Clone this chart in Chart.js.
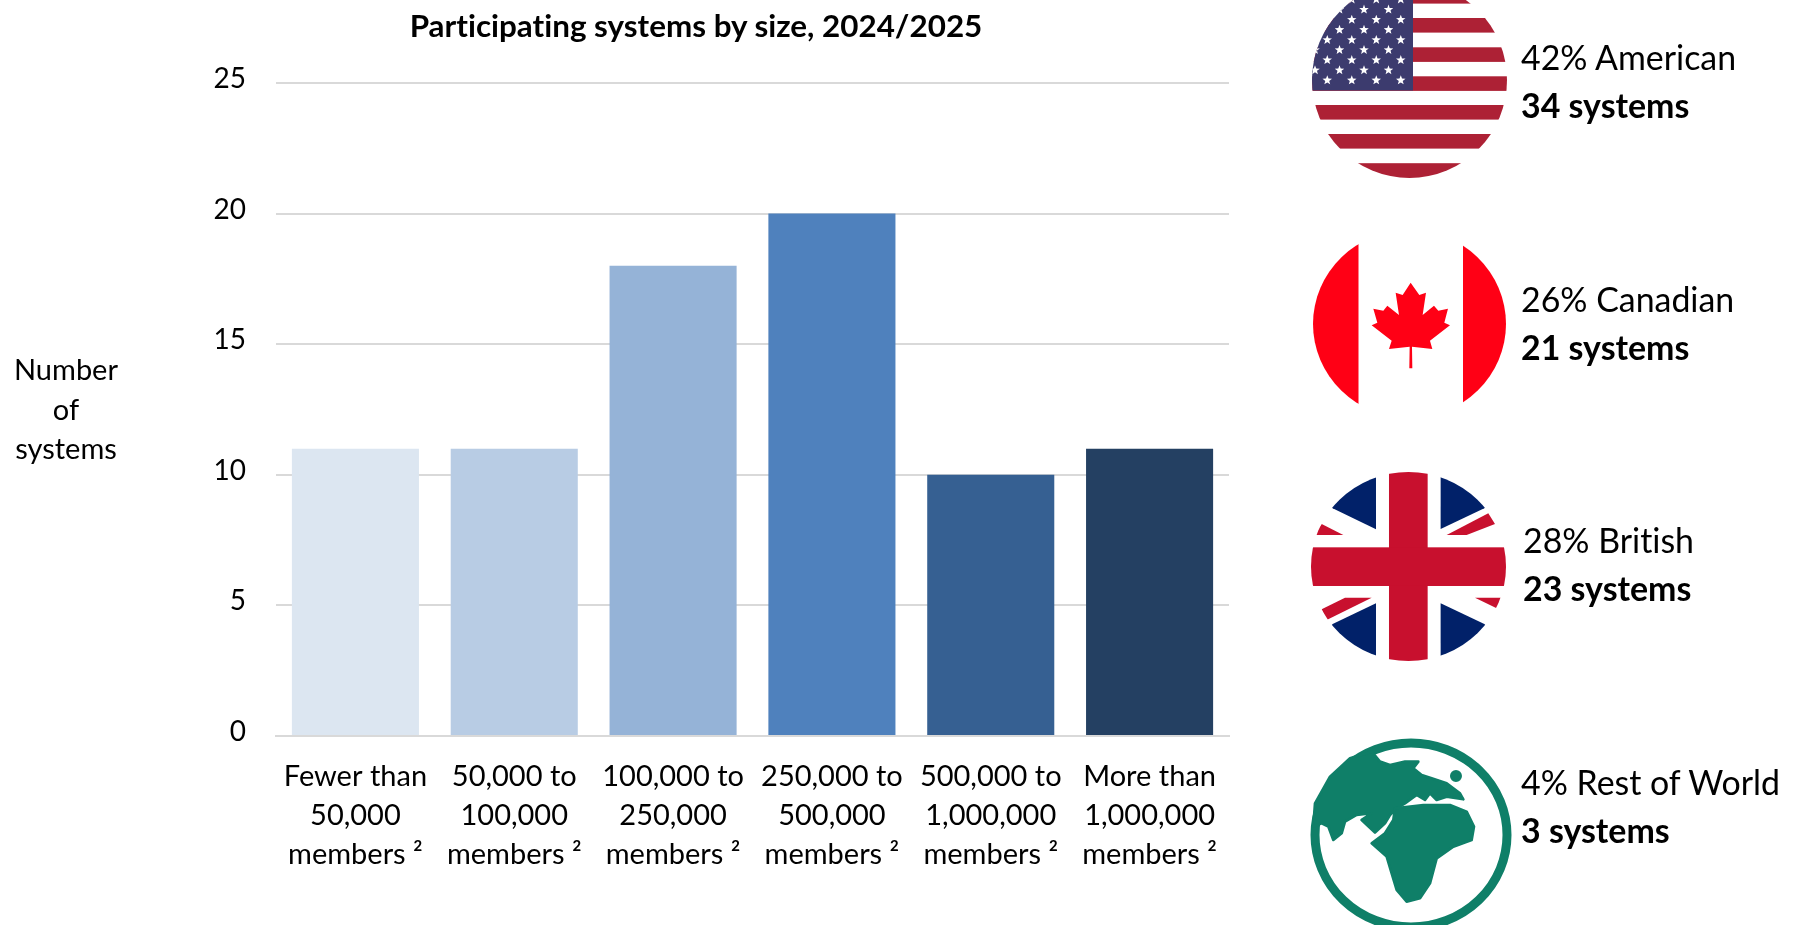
<!DOCTYPE html>
<html>
<head>
<meta charset="utf-8">
<title>Participating systems by size</title>
<script src="https://cdn.jsdelivr.net/npm/chart.js@4"></script>
<style>
  html, body { margin: 0; padding: 0; background: #fff; overflow: hidden; }
  #page { position: relative; width: 1796px; height: 925px; font-family: Lato, sans-serif; color: #000; font-variant-ligatures: none; }
  #page canvas { position: absolute; left: 0; top: 0; }
  #flags { position: absolute; left: 0; top: 0; }
  .chart-title { position: absolute; left: 296px; width: 800px; top: 7px; text-align: center; font-size: 31.4px; line-height: 36px; font-weight: 700; }
  .axis-title { position: absolute; left: 6px; width: 120px; text-align: center; font-size: 29px; line-height: 39.5px; top: 349px; }
  .origin { position: absolute; font-size: 33.9px; line-height: 48px; white-space: nowrap; }
  .origin b { display: block; font-weight: 700; }
</style>
</head>
<body>
<div id="page">
  <canvas id="sizeChart" width="1796" height="925"></canvas>
  <div class="chart-title" id="chart-title"></div>
  <div class="axis-title" id="axis-title"></div>

  <svg id="flags" width="1796" height="925" viewBox="0 0 1796 925">
    <defs>
      <clipPath id="us-clip"><ellipse cx="1409.5" cy="80" rx="97.5" ry="98"/></clipPath>
      <clipPath id="uk-clip"><ellipse cx="1408.5" cy="566.5" rx="97.5" ry="94.5"/></clipPath>
      <clipPath id="ca-clip"><ellipse cx="1409.5" cy="324" rx="96.5" ry="94"/></clipPath>
      <clipPath id="page-clip"><rect width="1796" height="925"/></clipPath>
    </defs>

    <!-- stars and stripes, stars get added by script -->
    <g clip-path="url(#us-clip)" id="us-flag">
      <rect x="1300" y="-20" width="220" height="200" fill="#fff"/>
      <g fill="#ad2135">
        <rect x="1300" y="-11" width="220" height="14.6"/>
        <rect x="1300" y="18" width="220" height="14.6"/>
        <rect x="1300" y="47.3" width="220" height="14.6"/>
        <rect x="1300" y="76.3" width="220" height="14.6"/>
        <rect x="1300" y="105" width="220" height="14.6"/>
        <rect x="1300" y="134" width="220" height="14.6"/>
        <rect x="1300" y="163.2" width="220" height="15"/>
      </g>
      <rect x="1300" y="-20" width="113" height="110.5" fill="#3c3b6e"/>
      <g id="us-stars" fill="#fff"></g>
    </g>

    <!-- maple leaf -->
    <g clip-path="url(#ca-clip)">
      <rect x="1300" y="220" width="58.5" height="210" fill="#ff0015"/>
      <rect x="1463" y="220" width="58.5" height="210" fill="#ff0015"/>
    </g>
    <polygon transform="translate(1290 0) scale(0.3333)" fill="#ff0015"
      points="362,848 388,885 408,878 398,945 432,917 445,932 474,926 463,968 480,976 420,1022 427,1047 366,1040 367,1105 358,1105 359,1040 297,1047 305,1022 245,976 262,968 250,926 280,932 292,917 327,945 317,878 338,885"/>

    <!-- union jack -->
    <g clip-path="url(#uk-clip)">
      <g transform="translate(1290 450) scale(0.3333)">
        <g fill="#012169">
          <polygon points="258,238 128,175 60,120 60,0 258,0"/>
          <polygon points="452,237 583,175 660,120 660,0 452,0"/>
          <polygon points="258,460 128,522 60,590 60,700 258,700"/>
          <polygon points="452,460 583,522 660,590 660,700 452,700"/>
        </g>
        <g fill="#c8102e">
          <polygon points="470,255 595,190 615,222 530,255"/>
          <polygon points="95,222 160,255 70,255"/>
          <polygon points="95,478 165,443 245,443 110,510"/>
          <polygon points="555,443 640,443 620,475"/>
          <rect x="297" y="40" width="116" height="620"/>
          <rect x="40" y="292" width="620" height="116"/>
        </g>
      </g>
    </g>

    <!-- globe -->
    <g clip-path="url(#page-clip)">
      <ellipse cx="1411" cy="835" rx="96" ry="92" fill="none" stroke="#0f7f68" stroke-width="9"/>
      <g transform="translate(1290 450) scale(0.3333)" fill="#0f7f68" stroke="#0f7f68" stroke-width="8" stroke-linejoin="round">
        <polygon points="245,905 270,935 300,945 345,935 385,935 370,955 395,975 425,985 470,1000 510,1030 520,1048 470,1040 440,1050 420,1030 405,1050 380,1035 345,1060 320,1075 300,1095 285,1120 255,1148 215,1110 245,1090 200,1095 165,1115 155,1150 130,1170 115,1130 95,1120 70,1130 75,1060 120,980 180,925"/>
        <circle cx="498" cy="978" r="14"/>
        <polygon points="315,1075 400,1065 480,1065 530,1085 552,1130 545,1170 490,1190 440,1225 420,1300 390,1345 350,1355 320,1320 305,1270 290,1220 245,1180 285,1150 310,1110"/>
      </g>
    </g>
  </svg>
</div>

<script>
// Chart data
const chartTitle = 'Participating systems by size, 2024/2025';
const axisTitleLines = ['Number', 'of', 'systems'];
const sizeBands = [
  ['Fewer than', '50,000', 'members ²'],
  ['50,000 to', '100,000', 'members ²'],
  ['100,000 to', '250,000', 'members ²'],
  ['250,000 to', '500,000', 'members ²'],
  ['500,000 to', '1,000,000', 'members ²'],
  ['More than', '1,000,000', 'members ²']
];
const systemCounts = [11, 11, 18, 20, 10, 11];
const bandColors = ['#dce6f1', '#b8cce4', '#95b3d7', '#4f81bd', '#366092', '#244062'];

// Side panel
const originNames = ['42% American', '26% Canadian', '28% British', '4% Rest of World'];
const originSystems = ['34 systems', '21 systems', '23 systems', '3 systems'];
const originSlots = [[1521, 33], [1521, 275], [1523, 516], [1521, 758]];

const $ = (id) => document.getElementById(id);

$('chart-title').textContent = chartTitle;
$('axis-title').innerHTML = axisTitleLines.join('<br>');

originNames.forEach((name, i) => {
  const el = document.createElement('div');
  el.className = 'origin';
  el.style.left = originSlots[i][0] + 'px';
  el.style.top = originSlots[i][1] + 'px';
  el.textContent = name;
  const bold = document.createElement('b');
  bold.textContent = originSystems[i];
  el.appendChild(bold);
  $('page').appendChild(el);
});

// US canton stars, staggered rows
function addStars() {
  const group = $('us-stars');
  const svgNs = 'http://www.w3.org/2000/svg';
  for (let row = 0; row < 9; row++) {
    for (let col = 0; col < 8; col++) {
      const cx = 1315 + col * 12.25;
      const cy = -0.5 + row * 10.1;
      if ((row + col) % 2 === 0) continue;
      if (cx > 1405) continue;
      const pts = [];
      for (let k = 0; k < 10; k++) {
        const r = k % 2 === 0 ? 5 : 2.1;
        const a = -Math.PI / 2 + k * Math.PI / 5;
        pts.push((cx + r * Math.cos(a)).toFixed(1) + ',' + (cy + r * Math.sin(a)).toFixed(1));
      }
      const star = document.createElementNS(svgNs, 'polygon');
      star.setAttribute('points', pts.join(' '));
      group.appendChild(star);
    }
  }
}
addStars();

new Chart($('sizeChart').getContext('2d'), {
  type: 'bar',
  data: {
    labels: sizeBands,
    datasets: [{
      data: systemCounts,
      backgroundColor: bandColors,
      borderWidth: 0,
      categoryPercentage: 0.8,
      barPercentage: 1
    }]
  },
  options: {
    responsive: false,
    animation: false,
    layout: { padding: { top: 83, right: 567, left: 0, bottom: 0 } },
    plugins: { legend: { display: false }, tooltip: { enabled: false }, title: { display: false } },
    scales: {
      x: {
        afterFit: (scale) => { scale.height = 189; },
        grid: { display: false, drawTicks: false },
        border: { display: true, color: '#d9d9d9', width: 2 },
        ticks: {
          color: '#000', padding: 21, maxRotation: 0, autoSkip: false,
          font: { family: 'Lato', size: 29, lineHeight: 1.345 }
        }
      },
      y: {
        min: 0,
        max: 25,
        afterFit: (scale) => { scale.width = 276; },
        grid: { color: '#d9d9d9', lineWidth: 2, drawTicks: false },
        border: { display: false },
        ticks: {
          stepSize: 5, color: '#000', padding: 30, labelOffset: -4,
          font: { family: 'Lato', size: 28 }
        }
      }
    }
  }
});
</script>
</body>
</html>
